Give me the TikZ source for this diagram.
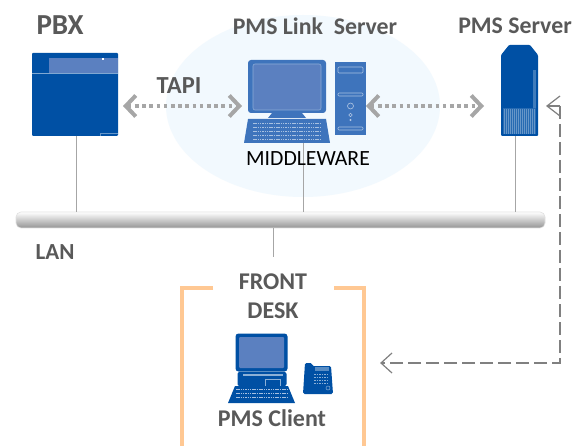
\documentclass[tikz,border=0pt]{standalone}
\usepackage{fontspec}
\setmainfont{Carlito}
\usetikzlibrary{arrows.meta,calc}
\definecolor{devblue}{HTML}{0050A4}
\definecolor{scrblue}{HTML}{5B80C0}
\definecolor{keyblue}{HTML}{3E74BC}
\definecolor{lab}{HTML}{595959}
\definecolor{halo}{HTML}{F2F9FE}
\definecolor{peach}{HTML}{FFC893}
\tikzset{
  x=1pt,y=-1pt,
  lbl/.style={font=\bfseries\fontsize{#1}{#1}\selectfont,text=lab,inner sep=0pt},
  lbl/.default=24,
  wire/.style={draw=black!35,line width=1pt},
  chev/.style={{Straight Barb[length=10pt,width=21pt,line width=4pt]}-{Straight Barb[length=10pt,width=21pt,line width=4pt]}},
  dotlink/.style={draw=black!35,line width=3.6pt,dash pattern=on 3.6pt off 3.6pt,chev},
  dashlink/.style={draw=black!50,line width=1.2pt,dash pattern=on 13pt off 5pt},
  openhead/.style={draw=black!50,line width=1.2pt,line join=miter},
  bracket/.style={draw=peach,line width=3.2pt},
  devbox/.style={draw=none,fill=devblue,inner sep=0pt,rounded corners=1pt},
}
\newcommand{\keyrows}[5]{% x0 x1 y0 y1 rows
  \foreach \r in {1,...,#5}{
    \draw[white!55!keyblue,line width=.6pt,dash pattern=on 1.5pt off .8pt]
      ({#1+3},{#3+(#4-#3)*\r/(#5+1)}) -- ({#2-3},{#3+(#4-#3)*\r/(#5+1)});
  }
}
\begin{document}
\begin{tikzpicture}
\useasboundingbox (0,0) rectangle (586,446);
\fill[white] (0,0) rectangle (586,446);
% halo
\fill[halo] (303,106) ellipse [x radius=137,y radius=91];

% PBX
\node[devbox,minimum width=86pt,minimum height=83pt] (pbx) at (75,94.5) {};
\fill[scrblue] (49,58) rectangle (118,73);
\fill[white!50!devblue] (32,73.3) rectangle (118,74.3);
\fill[white] (102,58.5) rectangle (104,60);
\draw[white!40!devblue,line width=.7pt] (100,136) -- (100,133) -- (118,133);

% PMS server
\node[devbox,minimum width=38pt,minimum height=91pt,fill=none] (srv) at (519.5,90.5) {};
\fill[devblue,rounded corners=1pt] (501,136) -- (501,55) -- (509,45) -- (530,45) -- (538,55) -- (538,136) -- cycle;
\fill[white!25!devblue] (533,70) rectangle (536,108);
\fill[white!15!devblue] (503,108) rectangle (536,134);
\foreach \i in {504,506,...,534} \draw[white!40!devblue,line width=.5pt] (\i,109) -- (\i,134);

% server PC
\node[devbox,minimum width=78pt,minimum height=53pt,rounded corners=3pt,fill=keyblue] (mon) at (287,86.5) {};
\fill[scrblue,rounded corners=2pt,draw=white!40!keyblue,line width=.6pt] (253,64) rectangle (321,110);
\fill[keyblue] (272,113) -- (302,113) -- (306,118) -- (268,118) -- cycle;
\node[devbox,minimum width=86pt,minimum height=24pt,fill=none] (kbd) at (287,131) {};
\fill[keyblue] (248,119) -- (326,119) -- (330,143) -- (244,143) -- cycle;
\keyrows{250}{324}{119}{143}{5}
\node[devbox,minimum width=31pt,minimum height=73pt,fill=keyblue,rounded corners=0pt] (tower) at (350.5,98.5) {};
\foreach \yy/\hh in {67/6,93/3,127/3}
  \draw[white!55!keyblue,line width=.6pt,rounded corners=1pt] (338,\yy) rectangle (363,\yy+\hh);
\draw[white!60!keyblue,line width=.6pt] (350.5,106) circle (3);
\draw[white!60!keyblue,line width=.6pt] (350.5,115) circle (1.8);
\fill[white!60!keyblue] (350.5,120) circle (1.2);

% bus
\node[draw=black!12,line width=.6pt,rounded corners=5pt,top color=white,bottom color=black!42,minimum width=529pt,minimum height=16pt,inner sep=0pt] (bus) at (280.5,220) {};

% wires
\coordinate (pbxfoot) at (76,136);
\coordinate (midfoot) at (303,143);
\coordinate (srvfoot) at (515,136);
\coordinate (deskdrop) at (273,257);
\draw[wire] (pbxfoot) -- (pbxfoot |- bus.north);
\draw[wire] (midfoot) -- (midfoot |- bus.north);
\draw[wire] (srvfoot) -- (srvfoot |- bus.north);
\draw[wire] (deskdrop |- bus.south) -- (deskdrop);

% dotted links
\coordinate (a1) at (123,106);
\coordinate (a2) at (242,106);
\coordinate (b1) at (366,106);
\coordinate (b2) at (484,106);
\draw[dotlink] (a1) -- (a2);
\draw[dotlink] (b1) -- (b2);

% dashed link
\coordinate (d0) at (560,106);
\coordinate (d1) at (560,363);
\coordinate (d2) at (381,363);
\draw[openhead] (560,96) -- (547,106) -- (560,116);
\draw[openhead] (547,106) -- (d0);
\draw[dashlink] (d0) -- (d1) -- (d2);
\draw[openhead] (392,353) -- (d2) -- (392,373);

% bracket
\draw[bracket] (213,288) -- (182,288) -- (182,446);
\draw[bracket] (334,288) -- (364,288) -- (364,446);

% client PC
\node[devbox,minimum width=52pt,minimum height=38pt,rounded corners=3pt] (cmon) at (261.5,352.5) {};
\fill[scrblue,rounded corners=1pt] (239,337) rectangle (284,368);
\node[devbox,minimum width=49pt,minimum height=14pt,rounded corners=2pt] (cbase) at (262,379) {};
\draw[white!55!devblue,line width=.5pt] (243,374) rectangle (282,375.5);
\draw[white!55!devblue,line width=.5pt] (265,379) rectangle (280,386);
\node[devbox,minimum width=67pt,minimum height=17pt,fill=none] (ckbd) at (261.5,394.5) {};
\fill[devblue] (235,386) -- (288,386) -- (295,403) -- (228,403) -- cycle;
\keyrows{233}{290}{386}{401}{3}
% phone
\node[devbox,minimum width=30pt,minimum height=31pt,rounded corners=2pt,fill=none] (phone) at (318,378.5) {};
\fill[devblue,rounded corners=1.5pt] (305,363) -- (312,363) -- (312,366) -- (331,366) -- (333,394) -- (303,394) -- cycle;
\fill[white!35!devblue] (315,367) rectangle (329,371);
\foreach \yy in {374,377,380,383} \draw[white!55!devblue,line width=.6pt,dash pattern=on 1.6pt off 1pt] (314,\yy) -- (328,\yy);
\draw[white!55!devblue,line width=.5pt] (328,388) circle (2);

% labels
\node[lbl=29] (tPBX) at (60,25) {PBX};
\node[lbl=23.8] (tLink) at (315,26) {PMS Link\ \ Server};
\node[lbl=23.8] (tSrv) at (515,26) {PMS Server};
\node[lbl=24.5] (tTAPI) at (179,86) {TAPI};
\node[font=\fontsize{21.7}{21.7}\selectfont,text=black,inner sep=0pt] (tMid) at (308,159) {MIDDLEWARE};
\node[lbl=23] (tLAN) at (55,252) {LAN};
\node[lbl=24] (tFront) at (273,282) {FRONT};
\node[lbl=24] (tDesk) at (273,311) {DESK};
\node[lbl=24] (tClient) at (272,418) {PMS Client};
\end{tikzpicture}
\end{document}
